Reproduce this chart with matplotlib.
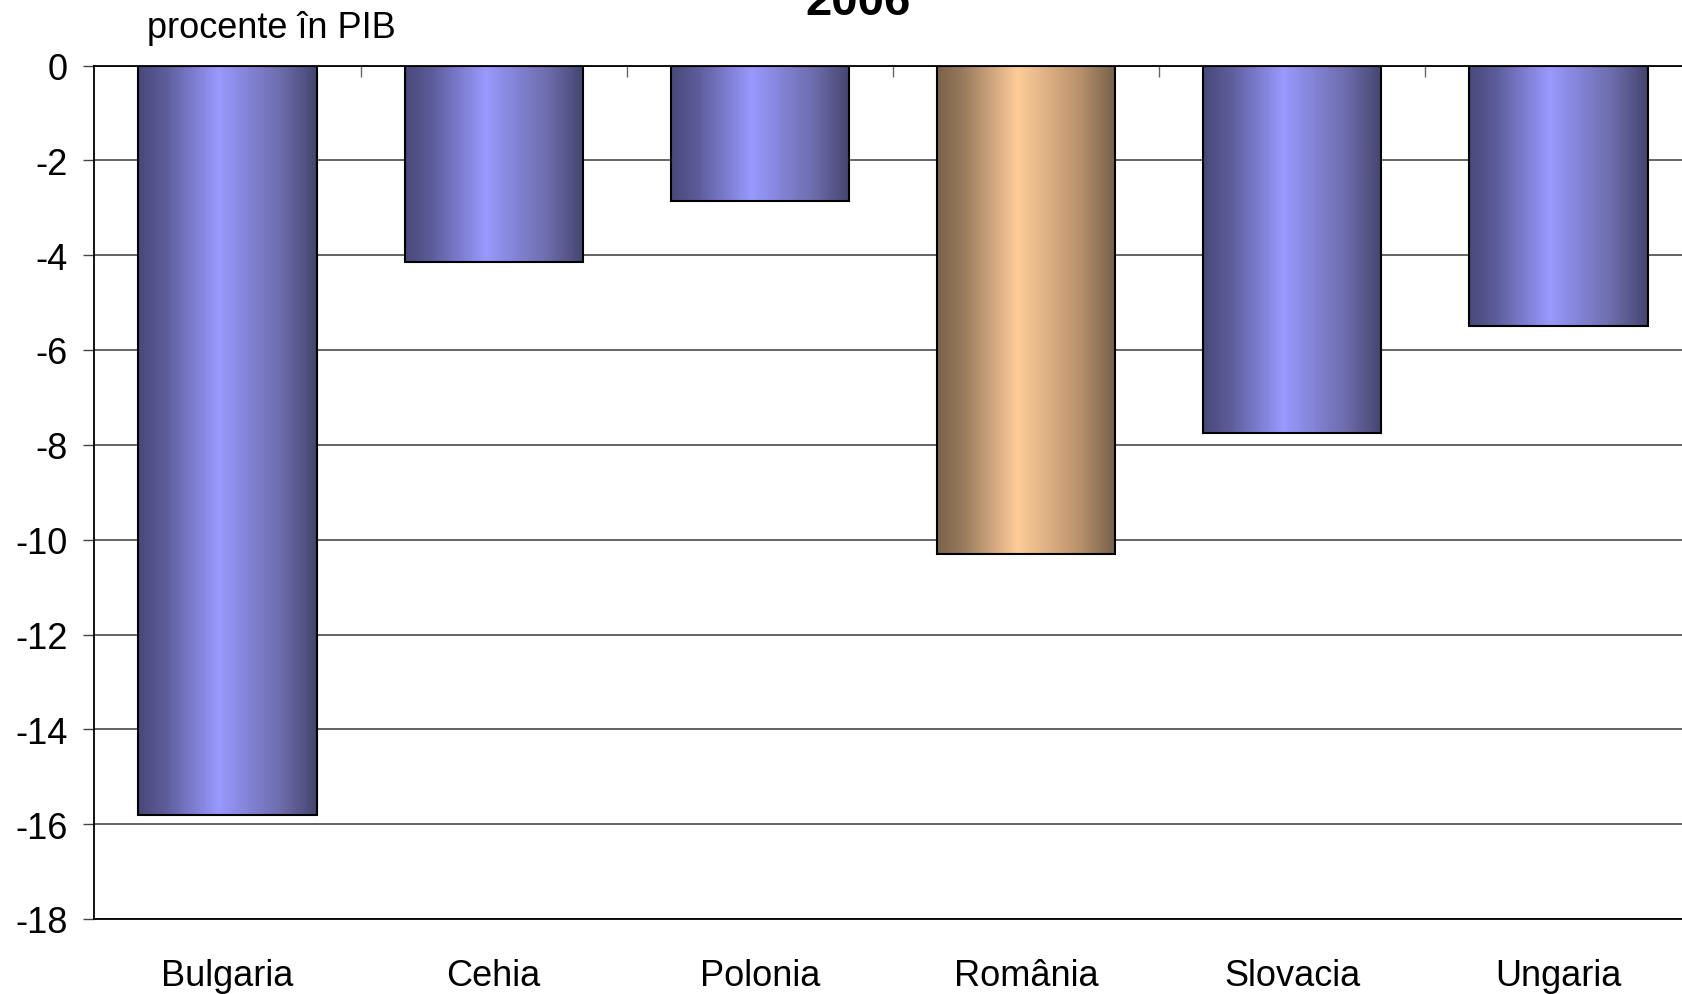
import numpy as np
import matplotlib.pyplot as plt
from matplotlib.colors import LinearSegmentedColormap

plt.rcParams['font.family'] = ['Liberation Sans', 'DejaVu Sans']

# date: sold bugetar / cont curent, procente in PIB, 2006
tari = ['Bulgaria', 'Cehia', 'Polonia', 'România', 'Slovacia', 'Ungaria']
valori = [-15.8, -4.15, -2.85, -10.3, -7.75, -5.5]
y_ticks = [0, -2, -4, -6, -8, -10, -12, -14, -16, -18]

# gradient orizontal: inchis la margini, deschis spre centru
albastru = LinearSegmentedColormap.from_list(
    'alb', [(0, '#48487a'), (0.15, '#5c5c9a'), (0.45, '#9999ff'),
            (0.8, '#6c6cac'), (1, '#45456f')])
bej = LinearSegmentedColormap.from_list(
    'bej', [(0, '#79614a'), (0.15, '#9a7c5e'), (0.45, '#ffcc99'),
            (0.8, '#b8916c'), (1, '#74604a')])

W, H = 1682, 995
fig = plt.figure(figsize=(W / 100, H / 100), dpi=100)
ax = fig.add_axes([94.4 / W, 1 - 920 / H, 6 * 266.2 / W, (920 - 66.5) / H])

x = np.arange(len(tari))
latime = 0.67
bare = ax.bar(x, valori, width=latime, facecolor='none', edgecolor='black',
              linewidth=1.5, zorder=3)

grad = np.linspace(0, 1, 256).reshape(1, -1)
for bara, tara in zip(bare, tari):
    cmap = bej if tara == 'România' else albastru
    x0 = bara.get_x()
    x1 = x0 + bara.get_width()
    y0 = bara.get_y()
    y1 = y0 + bara.get_height()
    im = ax.imshow(grad, cmap=cmap, aspect='auto', extent=(x0, x1, min(y0, y1), max(y0, y1)),
                   interpolation='bilinear', zorder=2)
    im.set_clip_path(bara)

ax.set_xlim(-0.5, 5.5)
ax.set_ylim(-18, 0)

# axa Y
ax.set_yticks(y_ticks)
ax.set_yticklabels([str(v) for v in y_ticks])
ax.tick_params(axis='y', direction='out', length=8, width=1, pad=11,
               labelsize=26, color='#444444')
ax.yaxis.grid(True, color='#4a4a4a', linewidth=1.2)
ax.set_axisbelow(True)

# axa X: etichete jos, liniute intre categorii pe linia de zero
ax.set_xticks(x)
ax.set_xticklabels(tari)
ax.tick_params(axis='x', which='major', length=0, pad=28, labelsize=26)
ax.set_xticks(np.arange(0.5, 5.5, 1), minor=True)
ax.tick_params(axis='x', which='minor', top=True, bottom=False, direction='in',
               length=8, width=1, color='#666666')

for s in ['left', 'top', 'bottom']:
    ax.spines[s].set_color('black')
    ax.spines[s].set_linewidth(1.3)
ax.spines['right'].set_visible(False)

fig.text(147 / W, 1 - 38 / H, 'procente în PIB', fontsize=26, va='baseline', ha='left')
fig.text(858 / W, 1 - 15 / H, '2006', fontsize=34, fontweight='bold',
         va='baseline', ha='center')

fig.savefig('out.png', dpi=100)
